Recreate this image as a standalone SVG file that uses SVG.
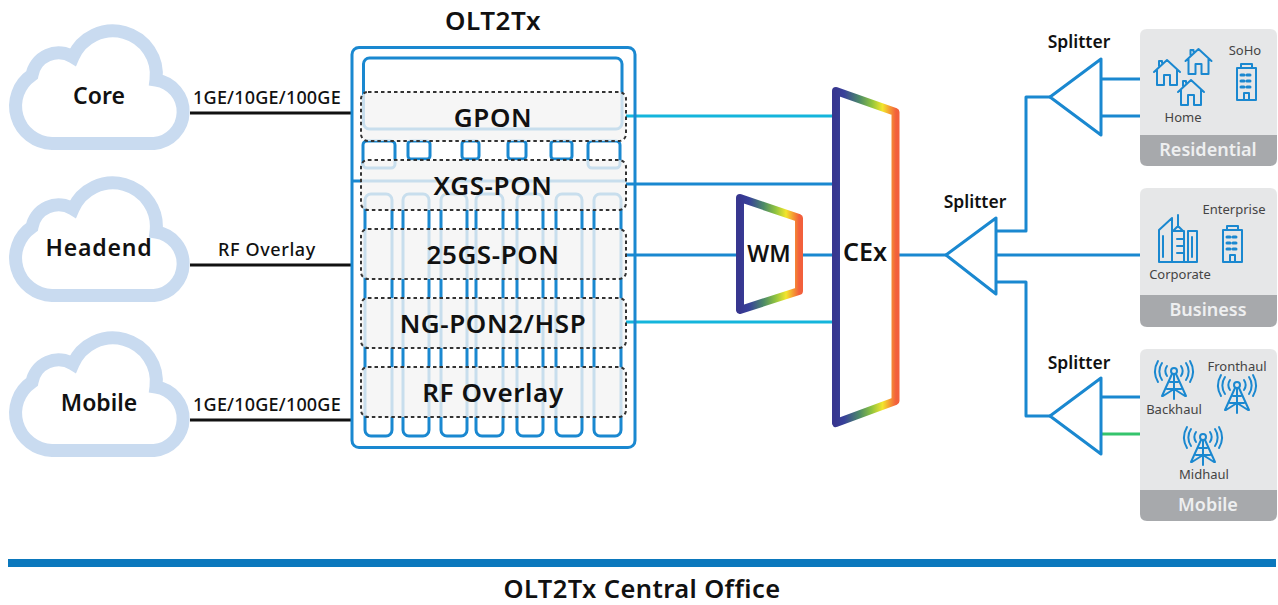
<svg xmlns="http://www.w3.org/2000/svg" width="1278" height="605" viewBox="0 0 1278 605">
<style>
text{font-family:"Noto Sans","DejaVu Sans",sans-serif;text-anchor:middle;fill:#111}
.cloudt{font-size:23px;font-weight:600}
.pon{font-size:26px;font-weight:600;letter-spacing:.6px}
.sp{font-size:17.500px;font-weight:600}
.sm{font-size:13px;fill:#444}
.band{font-size:18px;font-weight:600;fill:#eeeff0}
.rate{font-size:18px;font-weight:500;letter-spacing:.2px}
.cloud{fill:none;stroke:#c9dbf0;stroke-width:13}
.blue{fill:none;stroke:#1a88d0;stroke-width:3;stroke-linejoin:round}
.cyan{fill:none;stroke:#14b5dc;stroke-width:3}
.blk{fill:none;stroke:#111;stroke-width:3}
.pan{fill:#f4f4f4;fill-opacity:.8;stroke:#333;stroke-width:2;stroke-dasharray:3.5 3}
.ic{fill:none;stroke:#1a88d0;stroke-width:2;stroke-linejoin:round;stroke-linecap:round}
.card{fill:#e6e7e8}
.bandr{fill:#a7a9ac}
</style>
<defs>
<linearGradient id="gc" gradientUnits="userSpaceOnUse" x1="835" y1="0" x2="896" y2="0">
<stop offset="0" stop-color="#37368f"/><stop offset=".15" stop-color="#37409a"/><stop offset=".4" stop-color="#4c8a68"/><stop offset=".6" stop-color="#8fc33f"/><stop offset=".78" stop-color="#f2e52c"/><stop offset=".9" stop-color="#f59a32"/><stop offset="1" stop-color="#f2603c"/>
</linearGradient>
<linearGradient id="gw" gradientUnits="userSpaceOnUse" x1="740" y1="0" x2="799" y2="0">
<stop offset="0" stop-color="#37368f"/><stop offset=".15" stop-color="#37409a"/><stop offset=".4" stop-color="#4c8a68"/><stop offset=".6" stop-color="#8fc33f"/><stop offset=".78" stop-color="#f2e52c"/><stop offset=".9" stop-color="#f59a32"/><stop offset="1" stop-color="#f2603c"/>
</linearGradient>
<path id="cl" class="cloud" d="M52 143.500A37.500 37.500 0 0 1 32 75A27 27 0 0 1 73 57A43.500 43.500 0 0 1 156 80A32 32 0 0 1 154 143.500Z"/>
<g id="house" class="ic"><path d="M1 13L14 1L27 13M4 11V26H11V16H17V26H24V11M6 7V2H9V4"/></g>
<g id="bld" class="ic"><path d="M1 5H20V37H1ZM5 5V1H16V5M8 37V30H13V37"/><path stroke-width="3" stroke-dasharray="3 3" d="M5 12H17M5 18H17M5 24H17"/></g>
<g id="tower" class="ic"><circle cx="0" cy="8" r="3"/><path d="M-2 11L-12 33M2 11L12 33M0 12V36M-4 19H4M-7 26H7M-11 33L0 26L11 33"/><path d="M-7 3A9 9 0 0 0 -7 13M7 3A9 9 0 0 1 7 13M-12 0A15 15 0 0 0 -12 17M12 0A15 15 0 0 1 12 17M-16 -2A21 21 0 0 0 -16 19M16 -2A21 21 0 0 1 16 19"/></g>
</defs>

<g id="connectors">
<path class="blk" d="M190 113H352M190 265H352M190 420H352"/>
<path class="cyan" d="M626 116H834M626 322H834"/>
<path class="blue" d="M626 184H834M626 255H740M800 255H834M896 255H946"/>
<path class="blue" d="M996 231H1026V97H1050M996 255H1140M996 282H1026V416H1050M1101 79H1140M1101 116H1140M1101 397H1140"/>
<path fill="none" stroke="#35c46c" stroke-width="3" d="M1101 434H1140"/>
</g>

<g id="cloud-core"><use href="#cl"/><text class="cloudt" x="99" y="104">Core</text></g>
<g id="cloud-headend"><use href="#cl" y="152"/><text class="cloudt" x="99" y="256" style="letter-spacing:.8px">Headend</text></g>
<g id="cloud-mobile"><use href="#cl" y="307"/><text class="cloudt" x="99" y="411">Mobile</text></g>
<g id="rates">
<text class="rate" x="267" y="104">1GE/10GE/100GE</text>
<text class="rate" x="267" y="256" style="letter-spacing:.6px">RF Overlay</text>
<text class="rate" x="267" y="411">1GE/10GE/100GE</text>
</g>

<g id="olt">
<text class="pon" x="493" y="30">OLT2Tx</text>
<rect class="blue" x="352" y="47.500" width="283" height="400" rx="7"/>
<rect class="blue" x="363.500" y="58" width="258.500" height="71" rx="6"/>
<g class="blue">
<rect x="363" y="141" width="32" height="27" rx="4"/>
<rect x="408" y="141" width="22" height="18" rx="3"/>
<rect x="462" y="141" width="17" height="18" rx="3"/>
<rect x="508" y="141" width="18" height="18" rx="3"/>
<rect x="551" y="141" width="21" height="18" rx="3"/>
<rect x="588" y="141" width="32" height="27" rx="4"/>
<path d="M352 181H626"/>
<rect x="365" y="194" width="27" height="242" rx="6"/>
<rect x="403" y="194" width="26" height="242" rx="6"/>
<rect x="441" y="194" width="26" height="242" rx="6"/>
<rect x="476" y="194" width="27" height="242" rx="6"/>
<rect x="517" y="194" width="26" height="242" rx="6"/>
<rect x="556" y="194" width="26" height="242" rx="6"/>
<rect x="594" y="194" width="27" height="242" rx="6"/>
</g>
<g id="gpon"><rect class="pan" x="361" y="92" width="265" height="49" rx="7"/><text class="pon" x="493" y="127">GPON</text></g>
<g id="xgs"><rect class="pan" x="361" y="160" width="265" height="50" rx="7"/><text class="pon" x="493" y="195">XGS-PON</text></g>
<g id="gs25"><rect class="pan" x="361" y="229" width="265" height="50" rx="7"/><text class="pon" x="493" y="264">25GS-PON</text></g>
<g id="ngpon"><rect class="pan" x="361" y="298" width="265" height="50" rx="7"/><text class="pon" x="493" y="333">NG-PON2/HSP</text></g>
<g id="rf"><rect class="pan" x="361" y="367" width="265" height="50" rx="7"/><text class="pon" x="493" y="402">RF Overlay</text></g>
</g>

<g id="wm"><path d="M740 198L799 218V291L740 310Z" fill="#fff" stroke="url(#gw)" stroke-width="8" stroke-linejoin="round"/><text class="cloudt" x="769" y="262">WM</text></g>
<g id="cex"><path d="M836 91L895.500 112V401L836 423Z" fill="#fff" stroke="url(#gc)" stroke-width="8" stroke-linejoin="round"/><text class="cloudt" x="865" y="261" style="font-size:25px">CEx</text></g>

<g id="splitter-main"><path class="blue" d="M946 255L996 218V294Z"/><text class="sp" x="975" y="208">Splitter</text></g>
<g id="splitter-top"><path class="blue" d="M1050 97L1101 59V135Z"/><text class="sp" x="1079" y="48">Splitter</text></g>
<g id="splitter-bottom"><path class="blue" d="M1050 416L1101 378V454Z"/><text class="sp" x="1079" y="369">Splitter</text></g>

<g id="residential">
<path class="card" d="M1147 29H1270Q1277 29 1277 36V135H1140V36Q1140 29 1147 29Z"/>
<path class="bandr" d="M1140 135H1277V159Q1277 166 1270 166H1147Q1140 166 1140 159Z"/>
<use href="#house" x="1153" y="59"/><use href="#house" x="1184.500" y="48"/><use href="#house" x="1177" y="79"/>
<use href="#bld" x="1236" y="63"/>
<text class="sm" x="1183" y="122">Home</text><text class="sm" x="1245" y="55">SoHo</text>
<text class="band" x="1208" y="156">Residential</text>
</g>

<g id="business">
<path class="card" d="M1147 188H1270Q1277 188 1277 195V295H1140V195Q1140 188 1147 188Z"/>
<path class="bandr" d="M1140 295H1277V320Q1277 327 1270 327H1147Q1140 327 1140 320Z"/>
<g class="ic"><path d="M1159 262V230L1172 218V262ZM1159 262H1197V231H1188V262M1172 262V231H1184V262M1173 231L1178 226L1183 231M1178 226V215M1177 239H1184M1177 246H1184M1177 253H1184M1163 236V257M1192 237V257"/></g>
<use href="#bld" x="1222" y="225"/>
<text class="sm" x="1234" y="214">Enterprise</text><text class="sm" x="1180" y="279">Corporate</text>
<text class="band" x="1208" y="316">Business</text>
</g>

<g id="mobile">
<path class="card" d="M1147 349H1270Q1277 349 1277 356V490H1140V356Q1140 349 1147 349Z"/>
<path class="bandr" d="M1140 490H1277V514Q1277 521 1270 521H1147Q1140 521 1140 514Z"/>
<use href="#tower" x="1174" y="363"/><use href="#tower" x="1237" y="377"/><use href="#tower" x="1203" y="429"/>
<text class="sm" x="1174" y="414">Backhaul</text><text class="sm" x="1237" y="371">Fronthaul</text><text class="sm" x="1204" y="479">Midhaul</text>
<text class="band" x="1208" y="511">Mobile</text>
</g>

<g id="footer">
<rect x="8" y="559" width="1268" height="8" fill="#0b78bd"/>
<text x="642" y="597.500" style="font-size:25.500px;font-weight:600;letter-spacing:.4px">OLT2Tx Central Office</text>
</g>
</svg>
